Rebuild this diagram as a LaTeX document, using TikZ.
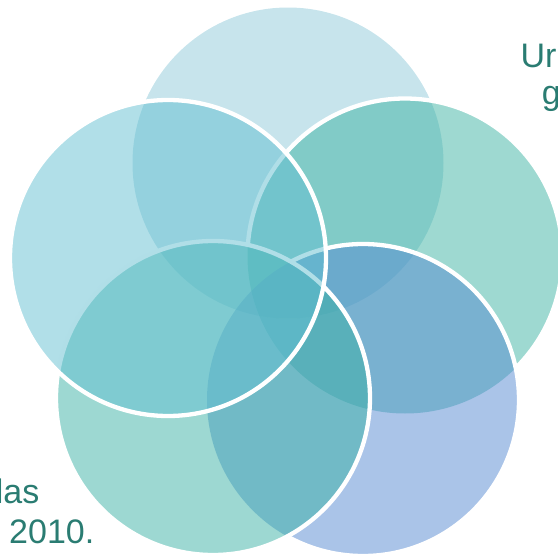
\documentclass[tikz,border=0pt]{standalone}
\usepackage{fontspec}
\setmainfont{Liberation Sans}
\definecolor{cTop}{RGB}{143,201,217}
\definecolor{cRight}{RGB}{61,179,163}
\definecolor{cBotRight}{RGB}{85,137,209}
\definecolor{cBotLeft}{RGB}{59,177,165}
\definecolor{cLeft}{RGB}{99,191,209}
\definecolor{txt}{RGB}{42,124,114}
\tikzset{
  disc/.style={fill=#1, fill opacity=0.5, draw=none},
  rim/.style={draw=white, line width=4.3pt},
  label/.style={inner sep=0pt, text=txt, font=\fontsize{34}{40}\selectfont},
}
% everything outside a circle: a frame one way round, the circle the other way
\newcommand{\clipoutside}[2]{\clip (-30,-30) -- (600,-30) -- (600,600) -- (-30,600) -- cycle
  (#1) ++(#2,0) arc[start angle=0, end angle=360, radius=#2];}
\begin{document}
\begin{tikzpicture}[x=1pt, y=-1pt]
\useasboundingbox (0,0) rectangle (558,557);

\coordinate (T)  at (288,163);
\coordinate (R)  at (405,256);
\coordinate (BR) at (363,400);
\coordinate (BL) at (213,398);
\coordinate (L)  at (168,258);

% top circle
\path[disc=cTop] (T) circle[radius=155.5pt];

% right circle
\path[disc=cRight] (R) circle[radius=157.5pt];
\begin{scope}
  \clipoutside{BR}{156pt}
  \clipoutside{BL}{157pt}
  \draw[rim] (R) circle[radius=157.5pt];
\end{scope}

% bottom right circle
\path[disc=cBotRight] (BR) circle[radius=156pt];
\begin{scope}
  \clipoutside{BL}{157pt}
  \draw[rim] (BR) circle[radius=156pt];
\end{scope}

% bottom left circle
\path[disc=cBotLeft] (BL) circle[radius=157pt];
\draw[rim] (BL) circle[radius=157pt];

% left circle
\path[disc=cLeft] (L) circle[radius=158pt];
\draw[rim] (L) circle[radius=158pt];

% text running off the edges
\node[label, anchor=base west] (ur) at (520.3,67) {Ur};
\node[label, anchor=base west] (g) at (541.6,104) {g};
\node[label, anchor=base east] (las) at (39.5,503) {las};
\node[label, anchor=base west] (year) at (9,543) {2010.};
\end{tikzpicture}
\end{document}
